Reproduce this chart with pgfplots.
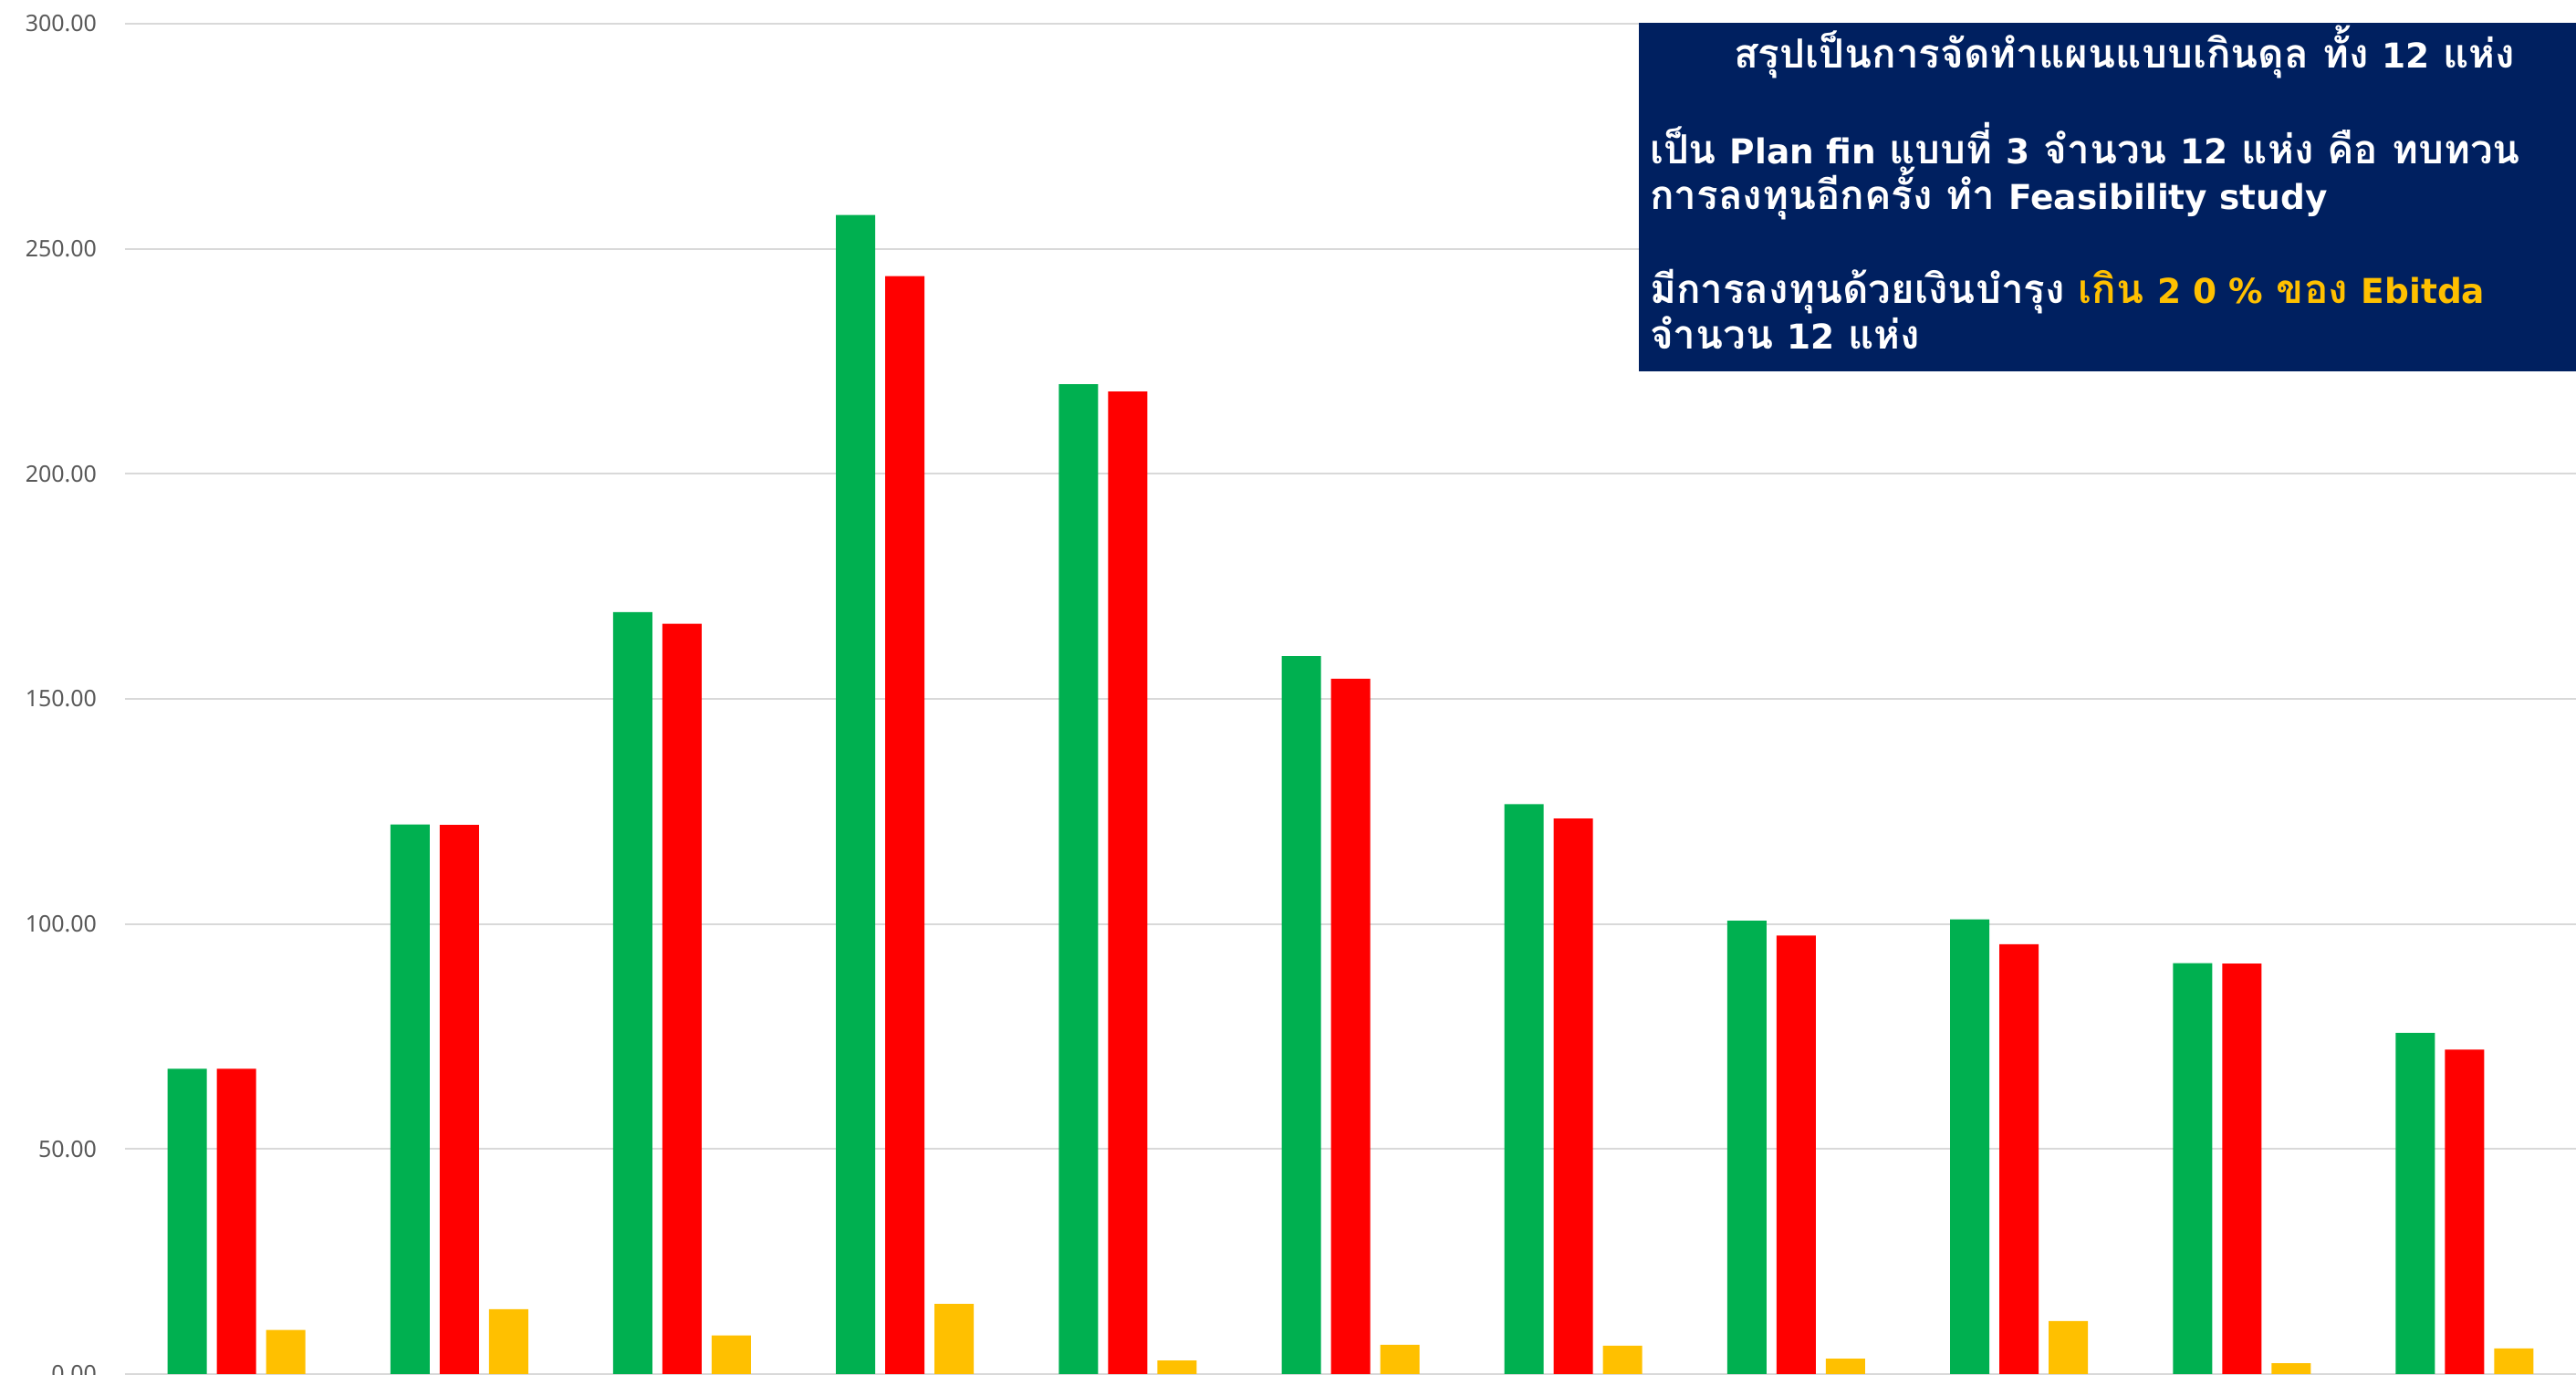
\documentclass[border=0pt]{standalone}
\usepackage{fontspec}
\usepackage{pgfplots}
\pgfplotsset{compat=1.18}
\setmainfont{Noto Sans}
\newfontfamily\thaifont[Script=Thai]{Loma}
\newfontfamily\latfont{DejaVu Sans}
\newcommand{\lat}[1]{{\latfont\bfseries\fontsize{7.5}{9}\selectfont #1}}
\definecolor{cgreen}{HTML}{00B050}
\definecolor{cred}{HTML}{FF0000}
\definecolor{cyellow}{HTML}{FFC000}
\definecolor{cnavy}{HTML}{002060}
\definecolor{tickgray}{HTML}{595959}
\definecolor{gridgray}{HTML}{D9D9D9}
\begin{document}
\begin{tikzpicture}
\begin{axis}[
  at={(0,0)}, anchor=south west,
  scale only axis, width=537.2pt, height=296pt,
  xmin=-0.5, xmax=10.5, ymin=0, ymax=300,
  ybar, bar width=8.6pt,
  xtick=\empty,
  ytick={0,50,100,150,200,250,300},
  /pgf/number format/.cd, fixed, fixed zerofill, precision=2, assume math mode=true,
  /pgfplots/.cd,
  yticklabel style={font=\fontsize{5}{6}\selectfont, text=tickgray, anchor=east, inner sep=0pt, xshift=-6pt},
  ymajorgrids, grid style={draw=gridgray, line width=0.4pt},
  axis x line=bottom, axis y line=left,
  x axis line style={-, draw=gridgray, line width=0.55pt},
  y axis line style={draw=none},
  major tick length=0pt,
]
\addplot[fill=cgreen, draw=none, bar shift=-10.8pt] coordinates {
 (0,67.8) (1,122.1) (2,169.3) (3,257.5) (4,219.9) (5,159.5) (6,126.6) (7,100.7) (8,101.0) (9,91.3) (10,75.8)};
\addplot[fill=cred, draw=none, bar shift=0pt] coordinates {
 (0,67.8) (1,122.0) (2,166.7) (3,243.9) (4,218.3) (5,154.5) (6,123.4) (7,97.4) (8,95.5) (9,91.2) (10,72.1)};
\addplot[fill=cyellow, draw=none, bar shift=10.8pt] coordinates {
 (0,9.8) (1,14.4) (2,8.6) (3,15.6) (4,3.0) (5,6.5) (6,6.3) (7,3.4) (8,11.8) (9,2.4) (10,5.7)};
\end{axis}
\fill[cnavy] (331.8pt,219.8pt) rectangle (545pt,296.2pt);
\begin{scope}[every node/.style={anchor=base west, inner sep=0pt, text=white, font=\thaifont\bfseries\fontsize{8.8}{10}\selectfont}]
\node at (352.4pt,286.2pt) {สรุปเป็นการจัดทำแผนแบบเกินดุล ทั้ง \lat{12} แห่ง};
\node at (334pt,265.2pt) {เป็น \lat{Plan fin} แบบที่ \lat{3} จำนวน \lat{12} แห่ง คือ ทบทวน};
\node at (334pt,255.2pt) {การลงทุนอีกครั้ง ทำ \lat{Feasibility study}};
\node at (334pt,234.6pt) {มีการลงทุนด้วยเงินบำรุง \textcolor{cyellow}{เกิน \lat{2 0 \%} ของ \lat{Ebitda}}};
\node at (334pt,224.6pt) {จำนวน \lat{12} แห่ง};
\end{scope}
\pgfresetboundingbox
\path[use as bounding box] (-27.4pt,-0.2pt) rectangle (537.2pt,301.2pt);
\end{tikzpicture}
\end{document}
